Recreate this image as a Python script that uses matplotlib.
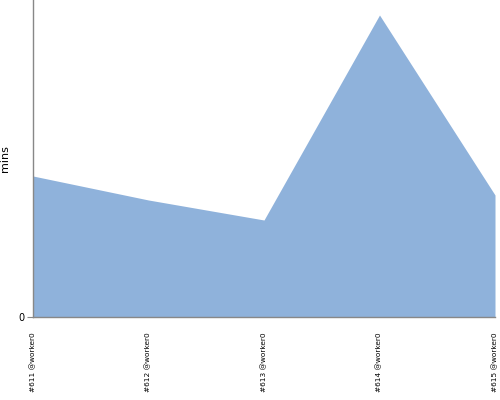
import matplotlib
matplotlib.use("Agg")
import matplotlib.pyplot as plt

# Build runs and duration in minutes
RUNS = ["#611 @worker0", "#612 @worker0", "#613 @worker0", "#614 @worker0", "#615 @worker0"]
MINS = [14.1, 11.7, 9.7, 30.2, 12.2]
Y_MAX = 31.7

FILL = "#8fb2db"
AXIS = "#888888"

fig = plt.figure(figsize=(5, 4), dpi=100)
ax = fig.add_axes([0.066, 0.2075, 0.924, 0.7925])

x = list(range(len(RUNS)))
ax.fill_between(x, 0, MINS, color=FILL, linewidth=0)

ax.set_xlim(0, len(RUNS) - 1)
ax.set_ylim(0, Y_MAX)

ax.set_xticks(x)
ax.set_xticklabels(RUNS, rotation=90, fontsize=5.3, va="top", ha="center")
ax.tick_params(axis="x", length=0, pad=11)
ax.set_yticks([0])
ax.set_yticklabels(["0"], fontsize=7)
ax.tick_params(axis="y", length=4, color=AXIS, pad=2)

ax.set_ylabel("mins", fontsize=8)
ax.yaxis.set_label_coords(-0.05, 0.5)

for side in ("top", "right"):
    ax.spines[side].set_visible(False)
for side in ("left", "bottom"):
    ax.spines[side].set_color(AXIS)
    ax.spines[side].set_linewidth(1)

fig.savefig("out.png", dpi=100, facecolor="white")
